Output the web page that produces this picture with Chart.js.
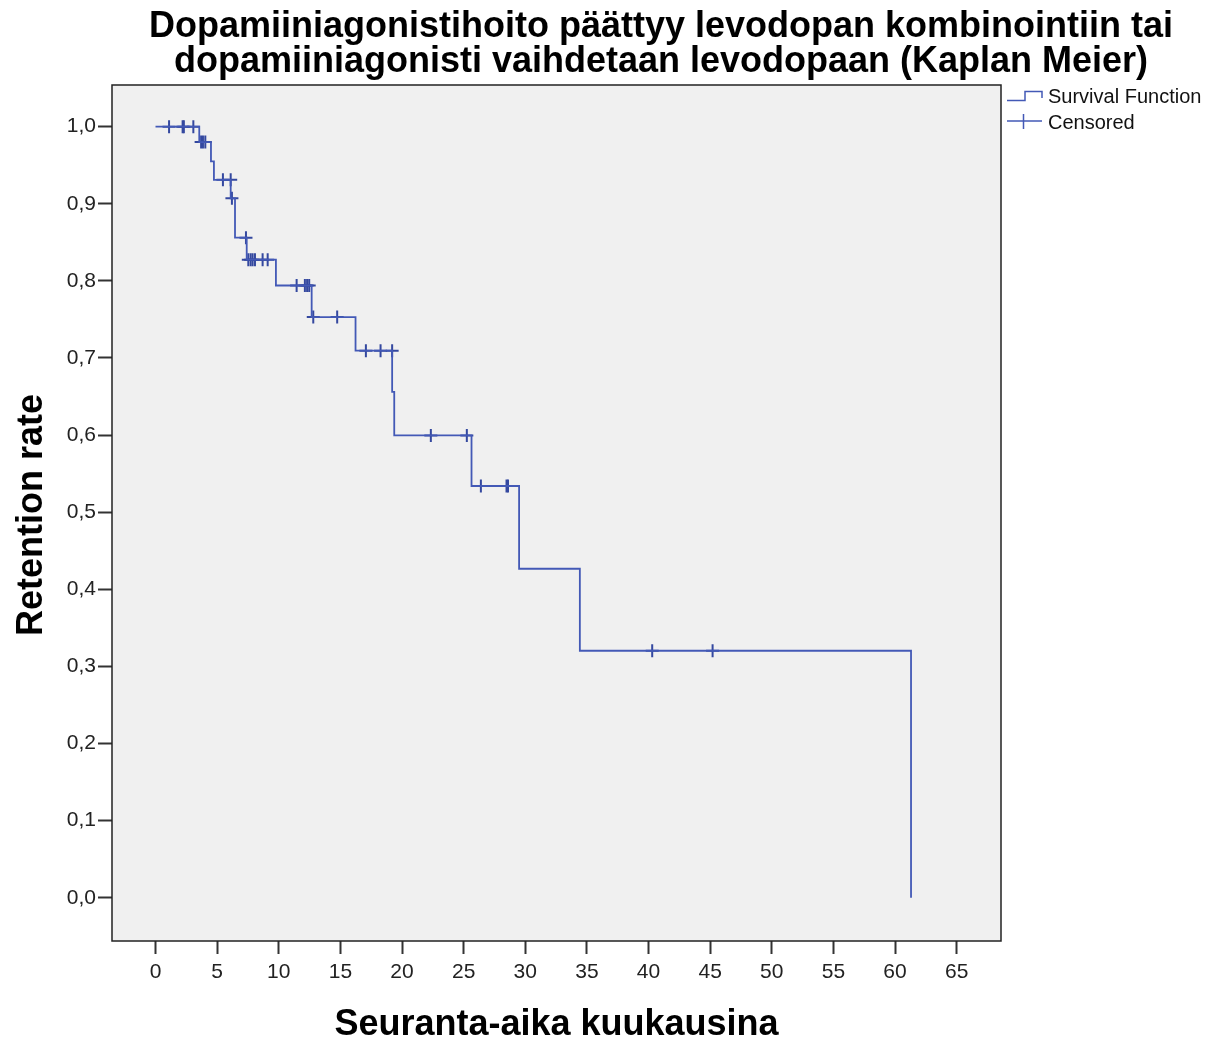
<!DOCTYPE html>
<html>
<head>
<meta charset="utf-8">
<script src="https://cdn.jsdelivr.net/npm/chart.js@4/dist/chart.umd.min.js"></script>
<style>
html,body{margin:0;padding:0;background:#fff;}
#wrap{width:1214px;height:1043px;position:relative;}
</style>
</head>
<body>
<div id="wrap"><canvas id="c" width="1214" height="1043"></canvas></div>
<script>
// ---- data ----
const titleLines = ["Dopamiiniagonistihoito päättyy levodopan kombinointiin tai", "dopamiiniagonisti vaihdetaan levodopaan (Kaplan Meier)"];
const xAxisTitle = "Seuranta-aika kuukausina";
const yAxisTitle = "Retention rate";
const legendLabels = ["Survival Function", "Censored"];
const xTicks = [0, 5, 10, 15, 20, 25, 30, 35, 40, 45, 50, 55, 60, 65];
const yTicks = [0, 0.1, 0.2, 0.3, 0.4, 0.5, 0.6, 0.7, 0.8, 0.9, 1.0];
const eventTimes = [0, 3.55, 4.5, 4.74, 6.1, 6.45, 7.4, 9.77, 12.67, 16.23, 19.2, 19.37, 25.64, 29.5, 34.43, 61.3];
const survival = [1, 0.98, 0.955, 0.931, 0.907, 0.856, 0.8275, 0.794, 0.753, 0.7095, 0.656, 0.5996, 0.534, 0.4267, 0.3204, 0];
const censorTimes = [1.1, 2.2, 2.3, 3.07, 3.7, 3.85, 4.04, 5.47, 6.1, 6.2, 7.34, 7.53, 7.72, 7.88, 8.07, 8.69, 9.1, 11.45, 12.12, 12.3, 12.47, 12.8, 14.74, 17.07, 18.26, 19.2, 22.34, 25.26, 26.4, 28.48, 28.6, 40.3, 45.2];
const censorValues = [1, 1, 1, 1, 0.98, 0.98, 0.98, 0.931, 0.931, 0.907, 0.856, 0.8275, 0.8275, 0.8275, 0.8275, 0.8275, 0.8275, 0.794, 0.794, 0.794, 0.794, 0.753, 0.753, 0.7095, 0.7095, 0.7095, 0.5996, 0.5996, 0.534, 0.534, 0.534, 0.3204, 0.3204];

const LINE = '#4359b6';
const CROSS = '#34489f';
const FONT = '"Liberation Sans", Arial, sans-serif';

const decorPlugin = {
  id: 'decor',
  beforeDraw(chart) {
    const {ctx, chartArea: a} = chart;
    ctx.save();
    ctx.fillStyle = '#fff';
    ctx.fillRect(0, 0, chart.width, chart.height);
    ctx.fillStyle = '#f0f0f0';
    ctx.fillRect(a.left, a.top, a.right - a.left, a.bottom - a.top);
    ctx.restore();
  },
  afterDraw(chart) {
    const {ctx, chartArea: a} = chart;
    ctx.save();
    // frame
    ctx.strokeStyle = '#222';
    ctx.lineWidth = 1.5;
    ctx.strokeRect(a.left, a.top, a.right - a.left, a.bottom - a.top);
    // title
    ctx.fillStyle = '#000';
    ctx.font = 'bold 36px ' + FONT;
    ctx.textAlign = 'center';
    ctx.textBaseline = 'alphabetic';
    ctx.fillText(titleLines[0], 661, 37);
    ctx.fillText(titleLines[1], 661, 72);
    // axis titles
    ctx.fillText(xAxisTitle, (a.left + a.right) / 2, 1035);
    ctx.save();
    ctx.translate(42, 515);
    ctx.rotate(-Math.PI / 2);
    ctx.fillText(yAxisTitle, 0, 0);
    ctx.restore();
    // legend
    ctx.strokeStyle = LINE;
    ctx.lineWidth = 1.5;
    ctx.beginPath();
    ctx.moveTo(1007, 100.5); ctx.lineTo(1025, 100.5); ctx.lineTo(1025, 91.5); ctx.lineTo(1042, 91.5); ctx.lineTo(1042, 98);
    ctx.stroke();
    ctx.beginPath();
    ctx.moveTo(1007, 121); ctx.lineTo(1042, 121);
    ctx.moveTo(1023.5, 114); ctx.lineTo(1023.5, 129);
    ctx.stroke();
    ctx.fillStyle = '#111';
    ctx.font = '20px ' + FONT;
    ctx.textAlign = 'left';
    ctx.textBaseline = 'middle';
    ctx.fillText(legendLabels[0], 1048, 97);
    ctx.fillText(legendLabels[1], 1048, 123);
    ctx.restore();
  }
};

new Chart(document.getElementById('c'), {
  data: {
    datasets: [
      {
        type: 'line',
        label: legendLabels[0],
        data: eventTimes.map((t, i) => ({x: t, y: survival[i]})),
        stepped: 'before',
        borderColor: LINE,
        borderWidth: 1.8,
        pointRadius: 0,
        fill: false
      },
      {
        type: 'scatter',
        label: legendLabels[1],
        data: censorTimes.map((t, i) => ({x: t, y: censorValues[i]})),
        pointStyle: 'cross',
        pointRadius: 6.5,
        borderColor: CROSS,
        borderWidth: 2,
        backgroundColor: CROSS
      }
    ]
  },
  options: {
    responsive: false,
    animation: false,
    events: [],
    layout: {padding: {left: 0, top: 85, right: 213, bottom: 0}},
    plugins: {legend: {display: false}, title: {display: false}, tooltip: {enabled: false}},
    scales: {
      x: {
        type: 'linear',
        min: -3.53,
        max: 68.6,
        afterBuildTicks: s => { s.ticks = xTicks.map(v => ({value: v})); },
        afterFit: s => { s.height = 102; },
        grid: {drawOnChartArea: false, drawTicks: true, tickLength: 13, tickWidth: 2, tickColor: '#333'},
        border: {display: false},
        ticks: {color: '#222', font: {family: FONT, size: 21}, padding: 6, maxRotation: 0, autoSkip: false}
      },
      y: {
        type: 'linear',
        min: -0.056,
        max: 1.054,
        afterBuildTicks: s => { s.ticks = yTicks.map(v => ({value: v})); },
        afterFit: s => { s.width = 112; },
        grid: {drawOnChartArea: false, drawTicks: true, tickLength: 14, tickWidth: 2, tickColor: '#333'},
        border: {display: false},
        ticks: {color: '#222', font: {family: FONT, size: 21}, padding: 2, autoSkip: false,
          callback: v => v.toFixed(1).replace('.', ',')}
      }
    }
  },
  plugins: [decorPlugin]
});
</script>
</body>
</html>
